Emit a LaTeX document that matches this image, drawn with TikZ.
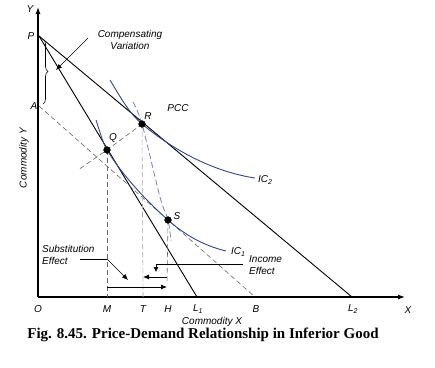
\documentclass[tikz,border=0pt]{standalone}
\usepackage{fontspec}
\setmainfont{Liberation Serif}
\setsansfont{Liberation Sans}
\usetikzlibrary{decorations.pathreplacing,arrows.meta}
\definecolor{icblue}{RGB}{55,70,140}
\definecolor{pccblue}{RGB}{120,130,175}
\tikzset{
  lbl/.style={font=\sffamily\itshape\fontsize{10}{11.5}\selectfont, inner sep=0pt},
  budget/.style={line width=0.9pt},
  icurve/.style={icblue, line width=0.9pt},
  guide/.style={dash pattern=on 5pt off 3pt, black!60, line width=0.6pt},
  effarrow/.style={-{Latex[length=6pt,width=5pt]}, line width=0.8pt},
}
\begin{document}
\begin{tikzpicture}[x=1pt,y=-1pt]
            \useasboundingbox (0,0) rectangle (435,367);
            \coordinate (O) at (38,297);
            \coordinate (Ytop) at (38,7);
            \coordinate (Xend) at (405,297);
            \coordinate (P) at (39,36);
            \coordinate (A) at (39,106);
            \coordinate (L1) at (197,297);
            \coordinate (L2) at (352,297);
            \coordinate (B) at (255,297);
            \coordinate (Q) at (107,150);
            \coordinate (R) at (142,124);
            \coordinate (S) at (168,220);
            \coordinate (M) at (107,297);
            \coordinate (T) at (143,297);
            \coordinate (H) at (167,297);
            % axes
            \draw [line width=1.2pt, -{Latex[length=7pt,width=5pt]}] (O)--(Ytop);
            \draw [line width=1.2pt, -{Latex[length=7pt,width=5pt]}] (O)--(Xend);
            % budget lines
            \draw [budget] (P)--(L1);
            \draw [budget] (P)--(L2);
            \draw [guide] (A)--(B);
            % guides
            \draw [guide] (80,168.6)--(Q)--(R);
            \draw [guide] (Q)--(M);
            \draw [guide, black!35] (R)--(T);
            \draw [guide] (S)--(167,284);
            \draw [dash pattern=on 6pt off 3pt, pccblue, line width=0.8pt]
                plot[smooth] coordinates {(133,102) (R) (160,197) (S) (171,241)};
            % indifference curves
            \draw [icurve] (110,80) .. controls (122,100) and (130,114) .. (R)
                .. controls (175,151.5) and (215,172) .. (255,178);
            \draw [icurve] (96,120) .. controls (100,132) and (103,143.4) .. (Q)
                .. controls (119,169.8) and (140,195.2) .. (S)
                .. controls (190,239.5) and (210,247) .. (226,251);
            \filldraw (Q) circle (3.4) (R) circle (3.4) (S) circle (3.4);
            % compensating variation
            \draw [decorate, decoration={brace, mirror, amplitude=5pt}, line width=0.6pt]
                (43,104)--(43,39);
            \draw [line width=0.6pt, -{Latex[length=6pt,width=5pt]}] (88,38)--(56,70);
            \node [lbl, align=center] (cv) at (130,40) {Compensating\\Variation};
            % effects
            \draw [line width=0.6pt] (80,259)--(107,259);
            \draw [line width=0.6pt, -{Latex[length=6pt,width=5pt]}] (107,259)--(128,280);
            \draw [effarrow] (M)++(0,-10)--(167,287);
            \draw [effarrow] (167,277)--(143,277);
            \draw [line width=0.6pt] (156,264)--(243,264);
            \draw [line width=0.6pt, -{Latex[length=5pt,width=5pt]}] (156,264)--(156,272);
            \node [lbl, align=left, anchor=west] (se) at (42,255) {Substitution\\Effect};
            \node [lbl, align=left, anchor=west] (ie) at (249,265) {Income\\Effect};
            % labels
            \node [lbl] (ylab) at (30,9) {Y};
            \node [lbl] (plab) at (31,36) {P};
            \node [lbl] (alab) at (34,106) {A};
            \node [lbl] (qlab) at (113,138) {Q};
            \node [lbl] (rlab) at (148,116) {R};
            \node [lbl] (slab) at (177,216) {S};
            \node [lbl] (pcc) at (178,108) {PCC};
            \node [lbl, anchor=west] (ic2) at (258,180) {IC\textsubscript{2}};
            \node [lbl, anchor=west] (ic1) at (231,252) {IC\textsubscript{1}};
            \node [lbl] (olab) at (38,309) {O};
            \node [lbl] (mlab) at (107,309) {M};
            \node [lbl] (tlab) at (143,309) {T};
            \node [lbl] (hlab) at (168,309) {H};
            \node [lbl] (l1lab) at (198,309) {L\textsubscript{1}};
            \node [lbl] (blab) at (256,309) {B};
            \node [lbl] (l2lab) at (353,309) {L\textsubscript{2}};
            \node [lbl] (xlab) at (408,310) {X};
            \node [lbl] (xtitle) at (212,322) {Commodity X};
            \node [lbl, rotate=90] (ytitle) at (24,158) {Commodity Y};
            \node [font=\bfseries\fontsize{15}{17}\selectfont, inner sep=0pt] (cap) at (203,335)
                {Fig. 8.45. Price-Demand Relationship in Inferior Good};
        \end{tikzpicture}
\end{document}
